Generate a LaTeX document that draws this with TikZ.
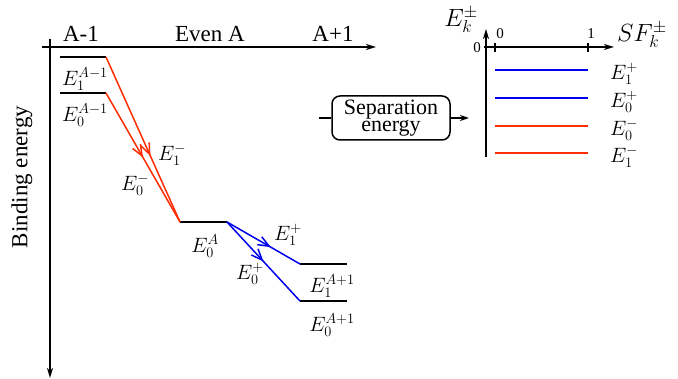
\documentclass[tikz,border=0pt]{standalone}
\usepackage{fontspec}
\setmainfont{Liberation Serif}
\usetikzlibrary{arrows.meta,decorations.markings}
\definecolor{myred}{RGB}{255,45,0}
\definecolor{myblue}{RGB}{0,0,240}
\tikzset{
  axis/.style={line width=1.6pt,-{Stealth[length=10pt,width=6pt,inset=3pt]}},
  level/.style={line width=2pt},
  trans/.style={line width=1.5pt},
  midarrow/.style={postaction={decorate},decoration={markings,mark=at position #1 with {\arrow{Straight Barb[length=11pt,width=9pt,line width=1.5pt]}}}},
  lab/.style={font=\fontsize{23}{23}\selectfont,inner sep=0pt},
  mlab/.style={font=\fontsize{20}{20}\selectfont,inner sep=0pt},
  tlab/.style={font=\fontsize{15}{15}\selectfont,inner sep=0pt},
  tick/.style={line width=1.5pt},
  sfline/.style={line width=2pt},
}
\begin{document}
\begin{tikzpicture}[x=1pt,y=-1pt]
\useasboundingbox (0,0) rectangle (678,379);
% left axes
\coordinate (vtop) at (50,39);
\coordinate (vbot) at (50,378);
\coordinate (hl) at (42,47);
\coordinate (hr) at (376,47);
\draw[axis] (vtop) -- (vbot);
\draw[axis] (hl) -- (hr);
\node[lab] (am1) at (81,34) {A-1};
\node[lab] (evenA) at (210,34) {Even A};
\node[lab] (ap1) at (333,34) {A+1};
\node[lab,rotate=90] (be) at (22,177) {Binding energy};
% levels
\coordinate (l1a) at (60,57); \coordinate (l1b) at (106,57);
\coordinate (l0a) at (60,93); \coordinate (l0b) at (106,93);
\coordinate (ga) at (180,222); \coordinate (gb) at (227,222);
\coordinate (p1a) at (300,264); \coordinate (p1b) at (347,264);
\coordinate (p0a) at (300,301); \coordinate (p0b) at (347,301);
\draw[level] (l1a) -- (l1b);
\draw[level] (l0a) -- (l0b);
\draw[level] (ga) -- (gb);
\draw[level] (p1a) -- (p1b);
\draw[level] (p0a) -- (p0b);
\node[mlab] (tl1) at (85,79) {$E_1^{A-1}$};
\node[mlab] (tl0) at (85,115) {$E_0^{A-1}$};
\node[mlab] (tg) at (205,246) {$E_0^{A}$};
\node[mlab] (tp1) at (332,286) {$E_1^{A+1}$};
\node[mlab] (tp0) at (332,325) {$E_0^{A+1}$};
% transitions
\draw[trans,myred,midarrow=0.6] (l1b) -- (ga);
\draw[trans,myred,midarrow=0.5] (l0b) -- (ga);
\draw[trans,myblue,midarrow=0.6] (gb) -- (p1a);
\draw[trans,myblue,midarrow=0.5] (gb) -- (p0a);
\node[mlab] (tm1) at (172,155) {$E_1^{-}$};
\node[mlab] (tm0) at (135,185) {$E_0^{-}$};
\node[mlab] (tpp1) at (288,235) {$E_1^{+}$};
\node[mlab] (tpp0) at (250,274) {$E_0^{+}$};
% separation energy box
\node[draw,line width=1.5pt,rounded corners=8pt,align=center,minimum width=118pt,minimum height=44pt,inner sep=0pt,font=\fontsize{22}{17}\selectfont] (sep) at (391,118) {Separation\\energy};
\coordinate (sepin) at (319,118);
\coordinate (sepout) at (469,118);
\draw[line width=1.5pt] (sepin) -- (sep.west);
\draw[line width=1.5pt,-{Stealth[length=9pt,width=6pt,inset=3pt]}] (sep.east) -- (sepout);
% right axes
\coordinate (rvbot) at (486,157);
\coordinate (rvtop) at (486,29);
\coordinate (rhl) at (484,47);
\coordinate (rhr) at (614,47);
\draw[axis] (rvbot) -- (rvtop);
\draw[axis] (rhl) -- (rhr);
\coordinate (t0a) at (495,43); \coordinate (t0b) at (495,52);
\coordinate (t1a) at (588,43); \coordinate (t1b) at (588,52);
\draw[tick] (t0a) -- (t0b);
\draw[tick] (t1a) -- (t1b);
\node[tlab] (n0) at (500,34) {0};
\node[tlab] (n1) at (591,34) {1};
\node[tlab] (nz) at (477,48) {0};
\node[font=\fontsize{23}{23}\selectfont,inner sep=0pt] (ek) at (461,20) {$E_k^{\pm}$};
\node[font=\fontsize{23}{23}\selectfont,inner sep=0pt] (sf) at (642,35) {$SF_k^{\pm}$};
\coordinate (b1a) at (495,70); \coordinate (b1b) at (588,70);
\coordinate (b0a) at (495,98); \coordinate (b0b) at (588,98);
\coordinate (r0a) at (495,126); \coordinate (r0b) at (588,126);
\coordinate (r1a) at (495,153); \coordinate (r1b) at (588,153);
\draw[sfline,myblue] (b1a) -- (b1b);
\draw[sfline,myblue] (b0a) -- (b0b);
\draw[sfline,myred] (r0a) -- (r0b);
\draw[sfline,myred] (r1a) -- (r1b);
\node[mlab] (e1p) at (624,74) {$E_1^{+}$};
\node[mlab] (e0p) at (624,102) {$E_0^{+}$};
\node[mlab] (e0m) at (624,130) {$E_0^{-}$};
\node[mlab] (e1m) at (624,157) {$E_1^{-}$};
\end{tikzpicture}
\end{document}
